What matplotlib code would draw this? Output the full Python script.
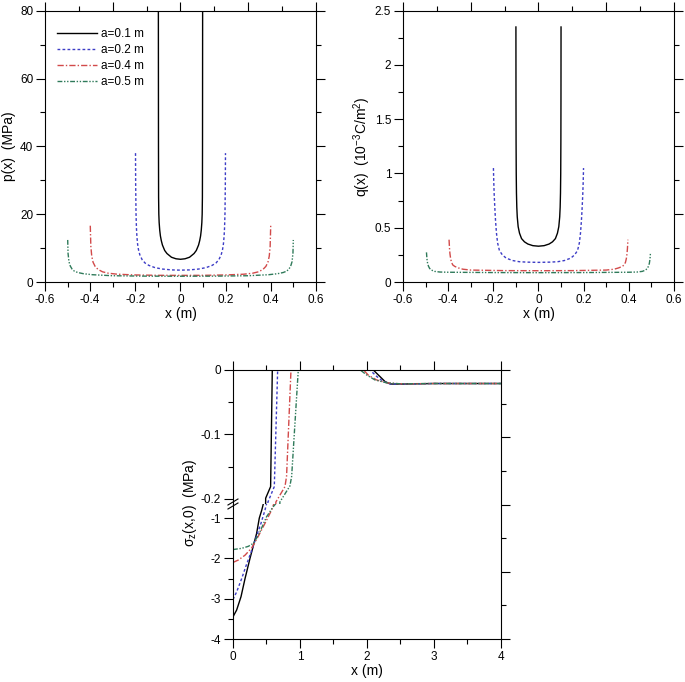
import numpy as np
import matplotlib
matplotlib.use('Agg')
import matplotlib.pyplot as plt
from matplotlib.ticker import FuncFormatter

plt.rcParams['font.family'] = ['Liberation Sans', 'DejaVu Sans']
plt.rcParams['mathtext.fontset'] = 'custom'
plt.rcParams['mathtext.rm'] = 'Liberation Sans'
plt.rcParams['mathtext.it'] = 'Liberation Sans:italic'
plt.rcParams['axes.unicode_minus'] = False

labels = ['a=0.1 m', 'a=0.2 m', 'a=0.4 m', 'a=0.5 m']

# p(x), MPa
p_x1 = [-0.098, -0.0975, -0.097, -0.096, -0.0945, -0.092, -0.089, -0.085, -0.08, -0.07, -0.06, -0.04, -0.02, 0,
        0.02, 0.04, 0.06, 0.07, 0.08, 0.085, 0.089, 0.092, 0.0945, 0.096, 0.097, 0.0975, 0.098]
p_y1 = [80, 40, 25, 20, 17.5, 15.3, 13.6, 12.2, 10.9, 9.3, 8.4, 7.3, 6.85, 6.7,
        6.85, 7.3, 8.4, 9.3, 10.9, 12.2, 13.6, 15.3, 17.5, 20, 25, 40, 80]
p_x2 = [-0.1992, -0.1985, -0.197, -0.195, -0.193, -0.19, -0.186, -0.18, -0.17, -0.157, -0.14, -0.113, -0.08, -0.04, 0,
        0.04, 0.08, 0.113, 0.14, 0.157, 0.17, 0.18, 0.186, 0.19, 0.193, 0.195, 0.197, 0.1985, 0.1992]
p_y2 = [38, 28.6, 20.3, 15.8, 13.4, 11.2, 9.5, 8.0, 6.6, 5.6, 4.9, 4.24, 3.82, 3.57, 3.5,
        3.57, 3.82, 4.24, 4.9, 5.6, 6.6, 8.0, 9.5, 11.2, 13.4, 15.8, 20.3, 28.6, 38]
p_x3 = [-0.3995, -0.397, -0.393, -0.387, -0.378, -0.365, -0.345, -0.32, -0.28, -0.2, -0.1, 0,
        0.1, 0.2, 0.28, 0.32, 0.345, 0.365, 0.378, 0.387, 0.393, 0.397, 0.3995]
p_y3 = [16.6, 10.5, 7.6, 5.8, 4.6, 3.7, 3.0, 2.6, 2.3, 2.08, 1.97, 1.95,
        1.97, 2.08, 2.3, 2.6, 3.0, 3.7, 4.6, 5.8, 7.6, 10.5, 16.6]
p_x4 = [-0.4995, -0.498, -0.494, -0.488, -0.48, -0.47, -0.455, -0.43, -0.39, -0.3, -0.15, 0,
        0.15, 0.3, 0.39, 0.43, 0.455, 0.47, 0.48, 0.488, 0.494, 0.498, 0.4995]
p_y4 = [12.4, 8.5, 6.0, 4.7, 3.8, 3.2, 2.8, 2.45, 2.15, 1.85, 1.73, 1.7,
        1.73, 1.85, 2.15, 2.45, 2.8, 3.2, 3.8, 4.7, 6.0, 8.5, 12.4]

# q(x), 10^-3 C/m^2
q_x1 = [-0.0999, -0.0996, -0.0992, -0.0985, -0.0975, -0.096, -0.094, -0.09, -0.084, -0.075, -0.062, -0.047, -0.025, 0,
        0.025, 0.047, 0.062, 0.075, 0.084, 0.09, 0.094, 0.096, 0.0975, 0.0985, 0.0992, 0.0996, 0.0999]
q_y1 = [2.35, 1.7, 1.3, 1.0, 0.82, 0.69, 0.6, 0.51, 0.45, 0.40, 0.37, 0.35, 0.335, 0.33,
        0.335, 0.35, 0.37, 0.40, 0.45, 0.51, 0.6, 0.69, 0.82, 1.0, 1.3, 1.7, 2.35]
q_x2 = [-0.1995, -0.198, -0.196, -0.193, -0.19, -0.186, -0.181, -0.173, -0.16, -0.143, -0.115, -0.085, -0.05, 0,
        0.05, 0.085, 0.115, 0.143, 0.16, 0.173, 0.181, 0.186, 0.19, 0.193, 0.196, 0.198, 0.1995]
q_y2 = [1.05, 0.92, 0.8, 0.67, 0.56, 0.45, 0.36, 0.29, 0.25, 0.22, 0.198, 0.187, 0.183, 0.181,
        0.183, 0.187, 0.198, 0.22, 0.25, 0.29, 0.36, 0.45, 0.56, 0.67, 0.8, 0.92, 1.05]
q_x3 = [-0.396, -0.394, -0.392, -0.389, -0.385, -0.379, -0.37, -0.355, -0.335, -0.3, -0.15, 0,
        0.15, 0.3, 0.335, 0.355, 0.37, 0.379, 0.385, 0.389, 0.392, 0.394, 0.396]
q_y3 = [0.39, 0.31, 0.26, 0.215, 0.18, 0.156, 0.143, 0.13, 0.118, 0.11, 0.105, 0.104,
        0.105, 0.11, 0.118, 0.13, 0.143, 0.156, 0.18, 0.215, 0.26, 0.31, 0.39]
q_x4 = [-0.496, -0.494, -0.491, -0.487, -0.482, -0.474, -0.46, -0.437, -0.4, -0.2, 0,
        0.2, 0.4, 0.437, 0.46, 0.474, 0.482, 0.487, 0.491, 0.494, 0.496]
q_y4 = [0.273, 0.215, 0.172, 0.145, 0.125, 0.11, 0.098, 0.092, 0.09, 0.087, 0.086,
        0.087, 0.09, 0.092, 0.098, 0.11, 0.125, 0.145, 0.172, 0.215, 0.273]

# sigma_z(x,0), MPa
s_x1 = [0, 0.055, 0.12, 0.18, 0.254, 0.31, 0.353, 0.393, 0.43, 0.46, 0.488, 0.562, 0.587,
        2.095, 2.195, 2.27, 2.35, 2.47, 2.7, 3.0, 3.5, 4.0]
s_y1 = [-3.45, -3.28, -2.95, -2.5, -2.0, -1.65, -1.38, -1.0, -0.8, -0.6, -0.199, -0.181, 0,
        0, -0.0103, -0.018, -0.0217, -0.022, -0.0215, -0.021, -0.021, -0.021]
s_x2 = [0, 0.055, 0.13, 0.2, 0.28, 0.31, 0.353, 0.418, 0.478, 0.505, 0.522, 0.617, 0.667,
        2.045, 2.145, 2.245, 2.35, 2.5, 3.0, 4.0]
s_y2 = [-3.02, -2.83, -2.5, -2.16, -1.8, -1.65, -1.44, -1.13, -0.8, -0.62, -0.205, -0.181, 0,
        0, -0.01, -0.018, -0.0217, -0.022, -0.021, -0.021]
s_x3 = [0, 0.08, 0.18, 0.28, 0.31, 0.378, 0.478, 0.577, 0.615, 0.64, 0.776, 0.8, 0.866,
        1.95, 2.02, 2.145, 2.3, 2.5, 3.0, 4.0]
s_y3 = [-2.1, -2.04, -1.92, -1.74, -1.65, -1.45, -1.13, -0.8, -0.62, -0.205, -0.181, -0.165, 0,
        0, -0.008, -0.0155, -0.02, -0.0215, -0.021, -0.021]
s_x4 = [0, 0.13, 0.23, 0.31, 0.4, 0.5, 0.6, 0.65, 0.70, 0.85, 0.876, 0.975,
        1.9, 2.0, 2.12, 2.3, 2.5, 3.0, 4.0]
s_y4 = [-1.78, -1.75, -1.70, -1.62, -1.35, -0.97, -0.72, -0.62, -0.205, -0.18, -0.165, 0,
        0, -0.008, -0.0155, -0.02, -0.0215, -0.021, -0.021]

colors = ['black', '#3c3cc6', '#d24a4a', '#2f7a5a']
styles = ['-', (0, (2, 1.6)), (0, (4.5, 1.5, 1, 1.5)), (0, (3.5, 1.2, 1, 1.2, 1, 1.2))]

fmt = FuncFormatter(lambda v, pos: '%g' % (round(v, 4) + 0.0))


def style_main(ax, bottom=True):
    ax.spines['top'].set_visible(False)
    ax.spines['right'].set_visible(False)
    ax.spines['bottom'].set_visible(bottom)
    ax.tick_params(which='both', direction='out', top=False, right=False,
                   bottom=bottom, labelbottom=bottom, labelsize=8.5, width=0.8, pad=2)
    ax.tick_params(which='major', length=6.5)
    ax.tick_params(which='minor', length=3.5)
    ax.xaxis.set_major_formatter(fmt)
    ax.yaxis.set_major_formatter(fmt)


def frame_top_right(rect):
    # top and right axes: 8 even steps, long tick every second one
    ov = fig.add_axes(rect, facecolor='none', zorder=3)
    ov.set_xlim(0, 8)
    ov.set_ylim(0, 8)
    ov.spines['left'].set_visible(False)
    ov.spines['bottom'].set_visible(False)
    ov.set_xticks([0, 2, 4, 6, 8])
    ov.set_xticks([1, 3, 5, 7], minor=True)
    ov.set_yticks([0, 2, 4, 6, 8])
    ov.set_yticks([1, 3, 5, 7], minor=True)
    ov.tick_params(which='both', direction='out', top=True, right=True, bottom=False, left=False,
                   labeltop=False, labelright=False, labelbottom=False, labelleft=False, width=0.8)
    ov.tick_params(which='major', length=6.5)
    ov.tick_params(which='minor', length=3.5)
    return ov


fig = plt.figure(figsize=(6.85, 6.82), dpi=100)

rect_p = [0.0657, 0.5865, 0.3956, 0.3978]
rect_q = [0.5883, 0.5865, 0.3956, 0.3978]

# p(x)
ax1 = fig.add_axes(rect_p)
for xs, ys, c, ls, lab in zip([p_x1, p_x2, p_x3, p_x4], [p_y1, p_y2, p_y3, p_y4], colors, styles, labels):
    ax1.plot(xs, ys, color=c, linestyle=ls, lw=1.0, label=lab)
ax1.set_xlim(-0.6, 0.6)
ax1.set_ylim(0, 80)
ax1.set_xticks(np.arange(-0.6, 0.61, 0.2))
ax1.set_xticks(np.arange(-0.5, 0.51, 0.2), minor=True)
ax1.set_yticks(np.arange(0, 81, 20))
ax1.set_yticks(np.arange(10, 71, 20), minor=True)
style_main(ax1)
ax1.set_xlabel('x (m)', fontsize=10, labelpad=1)
ax1.set_ylabel('p(x)  (MPa)', fontsize=10, labelpad=3)
ax1.legend(loc='upper left', bbox_to_anchor=(0.044, 0.935), frameon=False, fontsize=8.5,
           handlelength=3.4, handletextpad=0.35, labelspacing=0.33, borderaxespad=0, borderpad=0)
frame_top_right(rect_p)

# q(x)
ax2 = fig.add_axes(rect_q)
for xs, ys, c, ls in zip([q_x1, q_x2, q_x3, q_x4], [q_y1, q_y2, q_y3, q_y4], colors, styles):
    ax2.plot(xs, ys, color=c, linestyle=ls, lw=1.0)
ax2.set_xlim(-0.6, 0.6)
ax2.set_ylim(0, 2.5)
ax2.set_xticks(np.arange(-0.6, 0.61, 0.2))
ax2.set_xticks(np.arange(-0.5, 0.51, 0.2), minor=True)
ax2.set_yticks(np.arange(0, 2.51, 0.5))
ax2.set_yticks(np.arange(0.25, 2.3, 0.5), minor=True)
style_main(ax2)
ax2.set_xlabel('x (m)', fontsize=10, labelpad=1)
ax2.set_ylabel('q(x)  (10$^{-3}$C/m$^{2}$)', fontsize=10, labelpad=1)
frame_top_right(rect_q)

# sigma_z(x,0), broken axis
left, width = 0.3401, 0.3912
rect_up = [left, 0.261, width, 0.1965]
rect_lo = [left, 0.063, width, 0.198]
ax_up = fig.add_axes(rect_up)
ax_lo = fig.add_axes(rect_lo)
for xs, ys, c, ls in zip([s_x1, s_x2, s_x3, s_x4], [s_y1, s_y2, s_y3, s_y4], colors, styles):
    ax_up.plot(xs, ys, color=c, linestyle=ls, lw=1.0)
    ax_lo.plot(xs, ys, color=c, linestyle=ls, lw=1.0)
for ax in (ax_up, ax_lo):
    ax.set_xlim(0, 4)
    ax.set_xticks(np.arange(0, 4.1, 1))
    ax.set_xticks(np.arange(0.5, 4, 1), minor=True)
ax_up.set_ylim(-0.208, 0)
ax_up.set_yticks([0, -0.1, -0.2])
ax_up.set_yticks([-0.05, -0.15], minor=True)
ax_lo.set_ylim(-4, -0.65)
ax_lo.set_yticks([-1, -2, -3, -4])
ax_lo.set_yticks([-1.5, -2.5, -3.5], minor=True)
style_main(ax_up, bottom=False)
style_main(ax_lo)
ax_lo.set_xlabel('x (m)', fontsize=10, labelpad=1)
frame_top_right([left, 0.063, width, 0.4575 - 0.063])
fig.text(190 / 685, 1 - 503 / 682, 'σ$_\\mathrm{z}$(x,0)  (MPa)', rotation=90,
         ha='center', va='center', fontsize=10)

# break marks on the left axis
dx, dy = 5 / 268, 3 / 135
for off in (2 / 135, -2 / 135):
    ax_lo.plot([-dx, dx], [1 + off - dy, 1 + off + dy], transform=ax_lo.transAxes,
               color='black', lw=0.8, clip_on=False)

fig.savefig('out.png', dpi=100)
